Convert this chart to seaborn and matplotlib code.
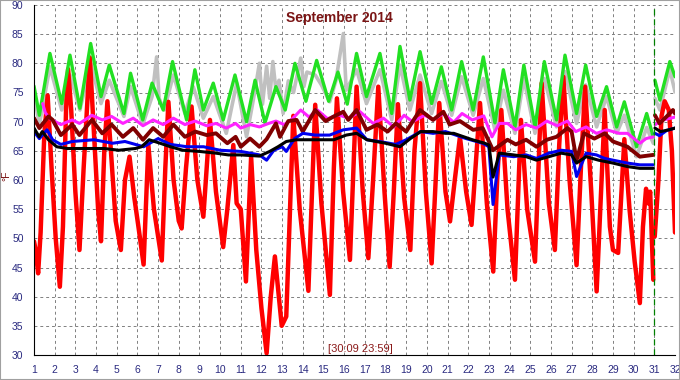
import matplotlib
matplotlib.use("Agg")
import matplotlib.pyplot as plt
from matplotlib.ticker import MultipleLocator
from matplotlib.patches import Rectangle
import pandas as pd
import seaborn as sns

# (day of month, °F); points after day 31 are the next segment
red = [(1.00, 49.5), (1.08, 48.0), (1.20, 44.0), (1.32, 51.0), (1.50, 68.0), (1.66, 74.5), (1.85, 62.0),
       (2.05, 50.0), (2.25, 41.7), (2.40, 52.0), (2.55, 72.0), (2.65, 79.0), (2.80, 72.0), (3.00, 58.0),
       (3.20, 48.0), (3.40, 62.0), (3.70, 81.0), (3.90, 68.0), (4.10, 55.0), (4.24, 49.5), (4.40, 65.0),
       (4.55, 73.5), (4.70, 66.0), (4.95, 53.0), (5.20, 48.0), (5.40, 60.0), (5.62, 64.0), (5.85, 57.0),
       (6.05, 52.0), (6.30, 45.5), (6.53, 66.0), (6.80, 55.0), (7.18, 46.2), (7.35, 62.0), (7.50, 73.4),
       (7.75, 60.0), (8.00, 53.0), (8.14, 51.7), (8.35, 62.0), (8.62, 72.6), (8.90, 60.0), (9.19, 53.7),
       (9.51, 70.3), (9.80, 58.0), (10.15, 48.5), (10.35, 55.0), (10.64, 66.0), (10.80, 56.0), (11.00, 55.0),
       (11.25, 42.6), (11.50, 64.0), (11.75, 48.0), (12.00, 38.0), (12.25, 30.3), (12.45, 40.0), (12.65, 46.9),
       (12.98, 35.0), (13.20, 36.6), (13.54, 71.0), (13.85, 55.0), (14.27, 41.0), (14.60, 72.9), (14.90, 56.0),
       (15.31, 40.3), (15.50, 62.0), (15.65, 74.0), (15.95, 58.0), (16.28, 46.3), (16.60, 76.0), (16.90, 58.0),
       (17.17, 46.6), (17.40, 60.0), (17.65, 76.0), (17.95, 58.0), (18.20, 45.1), (18.40, 58.0), (18.60, 73.0),
       (18.90, 57.0), (19.20, 48.0), (19.40, 65.0), (19.67, 76.6), (19.95, 58.0), (20.23, 45.7), (20.40, 58.0),
       (20.60, 73.2), (20.90, 58.0), (21.12, 52.9), (21.35, 60.0), (21.60, 67.4), (21.90, 58.0), (22.16, 52.3),
       (22.35, 62.0), (22.57, 73.2), (22.90, 56.0), (23.21, 44.3), (23.40, 60.0), (23.60, 72.0), (23.90, 55.0),
       (24.26, 42.9), (24.55, 70.3), (24.85, 55.0), (25.23, 46.0), (25.40, 62.0), (25.55, 76.6), (25.90, 56.0),
       (26.19, 48.0), (26.40, 66.0), (26.60, 77.7), (26.90, 60.0), (27.24, 45.4), (27.45, 62.0), (27.65, 76.0),
       (27.95, 58.0), (28.21, 40.9), (28.40, 56.0), (28.60, 72.0), (28.85, 52.0), (29.00, 48.0), (29.25, 47.5),
       (29.55, 67.0), (29.80, 55.0), (30.05, 46.0), (30.30, 38.9), (30.45, 52.0), (30.60, 58.5), (30.70, 56.0),
       (30.80, 58.0), (30.95, 42.9),
       (31.02, 50.3), (31.20, 60.0), (31.35, 71.0), (31.50, 73.5), (31.70, 72.0), (31.85, 65.0), (32.00, 51.0)]

green = [(1.00, 76.1), (1.26, 71.1), (1.77, 81.7), (2.34, 73.1), (2.74, 81.4), (3.22, 72.3), (3.74, 83.4),
         (4.24, 74.3), (4.64, 79.7), (5.35, 71.4), (5.67, 78.3), (6.26, 70.3), (6.71, 76.6), (7.25, 72.0),
         (7.70, 80.3), (8.38, 70.3), (8.78, 78.9), (9.19, 72.0), (9.67, 76.6), (10.15, 70.3), (10.72, 78.0),
         (11.28, 70.0), (11.69, 77.1), (12.17, 69.8), (12.70, 76.0), (13.15, 72.0), (13.62, 80.0), (14.15, 73.5),
         (14.67, 80.5), (15.25, 73.5), (15.70, 78.5), (16.15, 73.0), (16.60, 81.7), (17.08, 74.3), (17.73, 81.7),
         (18.30, 71.4), (18.70, 82.9), (19.18, 73.7), (19.67, 82.0), (20.23, 73.1), (20.70, 79.4), (21.20, 72.0),
         (21.68, 80.3), (22.24, 72.0), (22.73, 81.1), (23.29, 69.8), (23.70, 78.9), (24.26, 69.1), (24.69, 79.7),
         (25.23, 69.1), (25.68, 80.3), (26.27, 70.3), (26.68, 81.4), (27.24, 71.4), (27.68, 79.7), (28.21, 70.9),
         (28.69, 76.0), (29.18, 69.1), (29.55, 73.4), (30.14, 65.7), (30.63, 71.4), (30.95, 67.4),
         (31.03, 77.1), (31.27, 73.7), (31.75, 80.3), (32.00, 77.7)]

gray = [(1.00, 74.9), (1.26, 69.5), (1.77, 79.4), (2.34, 72.0), (2.74, 78.0), (3.22, 72.0), (3.74, 80.0),
        (4.24, 73.1), (4.64, 77.1), (5.35, 70.9), (5.67, 76.0), (6.26, 69.5), (6.71, 74.3), (6.93, 81.1),
        (7.05, 74.0), (7.30, 72.0), (7.74, 78.0), (8.30, 71.4), (8.70, 76.0), (9.19, 70.6), (9.67, 74.3),
        (10.30, 68.0), (10.80, 76.6), (11.28, 67.4), (11.69, 75.4), (11.90, 80.0), (12.05, 73.0), (12.25, 79.5),
        (12.40, 74.0), (12.55, 80.3), (12.70, 75.4), (12.85, 77.1), (13.05, 71.4), (13.30, 77.0), (13.55, 75.0),
        (13.90, 80.9), (14.05, 76.0), (14.20, 78.5), (14.60, 78.0), (14.90, 76.3), (15.30, 73.4), (15.60, 77.0),
        (15.96, 85.1), (16.10, 75.4), (16.60, 78.9), (17.08, 73.1), (17.73, 78.9), (18.30, 70.3), (18.70, 79.7),
        (19.18, 72.0), (19.67, 78.0), (20.23, 71.4), (20.70, 76.9), (21.20, 71.1), (21.68, 77.7), (22.24, 71.1),
        (22.73, 77.4), (23.29, 68.6), (23.70, 75.4), (24.26, 68.0), (24.69, 77.4), (25.23, 68.0), (25.68, 77.4),
        (26.27, 69.1), (26.68, 78.6), (27.24, 69.7), (27.68, 76.3), (28.21, 69.1), (28.69, 74.3), (29.18, 68.0),
        (29.55, 71.1), (30.14, 64.0), (30.63, 69.0), (30.95, 66.3),
        (31.03, 74.0), (31.27, 72.0), (31.75, 79.0), (32.00, 75.1)]

magenta = [(1.42, 73.1), (1.55, 71.5), (1.77, 70.5), (2.30, 69.5), (2.85, 70.3), (3.20, 69.7), (3.80, 71.1),
           (4.30, 70.3), (4.75, 70.9), (5.30, 69.7), (5.80, 70.6), (6.27, 69.3), (6.76, 70.3), (7.25, 69.5),
           (7.74, 70.6), (8.30, 69.5), (8.79, 70.1), (9.35, 69.3), (9.80, 69.7), (10.30, 68.9), (10.75, 69.7),
           (11.00, 68.9), (11.45, 69.5), (11.90, 69.1), (12.35, 69.7), (12.70, 70.1), (13.10, 69.5), (13.50, 70.5),
           (13.90, 72.0), (14.30, 70.8), (14.70, 72.0), (15.20, 70.5), (15.70, 71.2), (16.20, 70.6), (16.77, 71.7),
           (17.40, 69.7), (17.90, 70.6), (18.40, 69.1), (18.90, 71.1), (19.30, 70.0), (19.90, 71.1), (20.30, 70.3),
           (20.80, 71.4), (21.30, 69.9), (21.70, 71.4), (22.20, 70.3), (22.75, 71.0), (23.15, 67.4), (23.50, 69.7),
           (23.90, 69.7), (24.30, 68.6), (24.80, 69.5), (25.30, 68.9), (25.80, 70.1), (26.30, 69.3), (26.80, 70.1),
           (27.20, 68.3), (27.70, 69.1), (28.20, 68.0), (28.70, 68.6), (29.30, 68.0), (29.70, 68.0), (30.30, 66.3),
           (30.60, 67.1), (30.95, 67.4),
           (31.05, 69.5), (31.40, 70.3), (31.80, 70.6), (32.00, 70.8)]

maroon = [(1.00, 70.6), (1.26, 68.9), (1.70, 70.9), (1.90, 70.3), (2.30, 67.7), (2.85, 69.5), (3.20, 67.7),
          (3.80, 70.3), (4.30, 68.0), (4.75, 69.5), (5.30, 67.4), (5.80, 68.9), (6.27, 66.9), (6.76, 68.9),
          (7.25, 67.4), (7.74, 69.5), (8.30, 67.4), (8.80, 68.3), (9.35, 67.7), (9.80, 68.0), (10.35, 66.3),
          (10.75, 67.4), (11.00, 65.7), (11.45, 67.1), (11.90, 65.7), (12.25, 67.0), (12.70, 69.7), (12.90, 67.4),
          (13.30, 70.1), (13.70, 70.3), (14.00, 68.3), (14.60, 72.0), (15.10, 70.1), (15.50, 70.9), (15.96, 71.7),
          (16.20, 70.3), (16.60, 72.0), (17.08, 68.6), (17.60, 69.5), (18.10, 68.3), (18.50, 69.7), (19.00, 68.3),
          (19.67, 72.0), (20.30, 70.3), (20.80, 71.7), (21.10, 69.5), (21.60, 70.1), (22.24, 68.6), (22.70, 68.9),
          (23.20, 65.1), (23.90, 66.9), (24.30, 66.1), (24.80, 66.9), (25.30, 65.7), (25.80, 66.9), (26.27, 67.4),
          (26.80, 68.9), (27.00, 68.3), (27.24, 63.4), (27.60, 68.0), (28.10, 67.1), (28.60, 68.0), (29.00, 66.6),
          (29.70, 65.7), (30.30, 64.0), (30.95, 64.3),
          (31.03, 71.1), (31.25, 69.7), (31.60, 70.9), (31.90, 72.0), (32.00, 71.4)]

blue = [(1.00, 68.3), (1.26, 67.1), (1.63, 68.6), (1.90, 66.9), (2.30, 66.1), (2.85, 66.6), (3.90, 66.9),
        (4.80, 66.3), (5.40, 66.6), (6.30, 65.7), (7.00, 67.1), (7.60, 66.1), (8.40, 65.7), (9.20, 65.7),
        (10.00, 65.1), (11.00, 64.9), (11.90, 64.3), (12.25, 63.4), (12.60, 65.1), (13.00, 65.7), (13.20, 64.9),
        (13.60, 67.1), (14.00, 68.0), (14.60, 67.7), (15.30, 67.7), (15.96, 68.6), (16.60, 68.9), (17.10, 66.9),
        (17.70, 66.6), (18.50, 66.1), (19.00, 66.9), (19.70, 68.3), (20.30, 68.0), (20.90, 68.3), (21.40, 67.7),
        (21.90, 67.1), (22.70, 66.3), (23.00, 65.7), (23.20, 55.8), (23.50, 64.3), (24.20, 64.0), (24.80, 64.3),
        (25.30, 63.7), (25.90, 64.6), (26.50, 65.1), (27.00, 64.9), (27.24, 60.6), (27.70, 64.6), (28.20, 64.3),
        (28.60, 63.7), (29.00, 63.4), (29.70, 62.9), (30.30, 62.6), (30.95, 62.6),
        (31.03, 68.0), (31.25, 67.6), (31.60, 68.5), (32.00, 68.9)]

black = [(1.00, 68.9), (1.25, 67.4), (1.40, 68.3), (1.70, 66.9), (2.10, 65.7), (2.60, 65.4), (3.50, 65.4),
         (4.40, 65.4), (5.10, 65.1), (5.90, 65.4), (6.20, 65.7), (6.57, 66.9), (7.10, 66.3), (7.60, 65.7),
         (8.20, 65.1), (9.00, 64.9), (9.80, 64.6), (10.40, 64.3), (11.00, 64.3), (11.90, 64.1), (12.40, 64.9),
         (12.80, 65.7), (13.20, 66.6), (13.70, 66.9), (14.60, 66.9), (15.50, 66.9), (16.10, 67.7), (16.60, 68.0),
         (17.10, 66.9), (18.00, 66.3), (18.70, 65.7), (19.20, 67.1), (19.70, 68.3), (20.30, 68.3), (20.90, 68.0),
         (21.30, 68.0), (22.20, 66.9), (22.80, 66.3), (23.00, 66.0), (23.20, 60.5), (23.50, 64.6), (24.20, 64.3),
         (24.80, 64.0), (25.30, 63.4), (25.90, 64.0), (26.50, 64.6), (27.00, 64.3), (27.24, 62.9), (27.70, 64.0),
         (28.30, 63.4), (29.00, 62.9), (29.70, 62.3), (30.30, 62.0), (30.95, 62.0),
         (31.03, 68.9), (31.30, 68.3), (31.70, 68.6), (32.00, 68.9)]

# drawing order, bottom to top: name, points, colour, line width (pt)
series = [
    ("gray", gray, "#c0c0c0", 2.6),
    ("red", red, "#ff0000", 3.2),
    ("green", green, "#22e022", 2.4),
    ("magenta", magenta, "#ff22ff", 2.2),
    ("maroon", maroon, "#800000", 2.8),
    ("blue", blue, "#0000ee", 2.2),
    ("black", black, "#000000", 2.2),
]

sns.set_style("white")
plt.rcParams["font.family"] = ["Liberation Sans", "DejaVu Sans"]

fig = plt.figure(figsize=(6.8, 3.8), dpi=100)
ax = fig.add_axes([34 / 680, 25 / 380, 641 / 680, 350 / 380])

for name, pts, color, lw in series:
    df = pd.DataFrame(pts, columns=["day", "temp"])
    df["segment"] = (df["day"] > 31).astype(int)
    sns.lineplot(data=df, x="day", y="temp", units="segment", estimator=None,
                 color=color, linewidth=lw, ax=ax, legend=False,
                 solid_joinstyle="round", solid_capstyle="round")

ax.axvline(31, color="#008000", linestyle=(0, (5, 3)), linewidth=0.9)

ax.set_xlim(1, 32)
ax.set_ylim(30, 90)
ax.set_xticks(range(1, 33))
ax.set_yticks(range(30, 91, 5))
ax.xaxis.set_minor_locator(MultipleLocator(1 / 6))
ax.yaxis.set_minor_locator(MultipleLocator(1))
ax.tick_params(axis="both", which="major", direction="out", length=6, width=0.8,
               color="black", labelsize=7.5, labelcolor="#2a2a80", pad=1.5)
ax.tick_params(axis="both", which="minor", direction="out", length=3, width=0.8, color="black")
ax.set_xlabel("")
ax.set_ylabel("")

ax.grid(True, which="major", color="#808080", linestyle=(0, (3, 3)), linewidth=0.7)
for side in ["top", "right"]:
    ax.spines[side].set_visible(False)
for side in ["left", "bottom"]:
    ax.spines[side].set_color("black")
    ax.spines[side].set_linewidth(0.8)

ax.text(0.477, 0.963, "September 2014", transform=ax.transAxes, ha="center", va="center",
        fontsize=10, fontweight="bold", color="#7a1414")
ax.text(0.509, 0.018, "[30:09 23:59]", transform=ax.transAxes, ha="center", va="center",
        fontsize=8, color="#8b1a1a")
fig.text(6 / 680, 1 - 176 / 380, "°F", rotation=90, ha="center", va="center",
         fontsize=7.5, color="#7a1414")

fig.patches.append(Rectangle((0, 0), 1, 1, transform=fig.transFigure, fill=False,
                             edgecolor="#a0a0a0", linewidth=1.5))

fig.savefig("out.png", dpi=100)
